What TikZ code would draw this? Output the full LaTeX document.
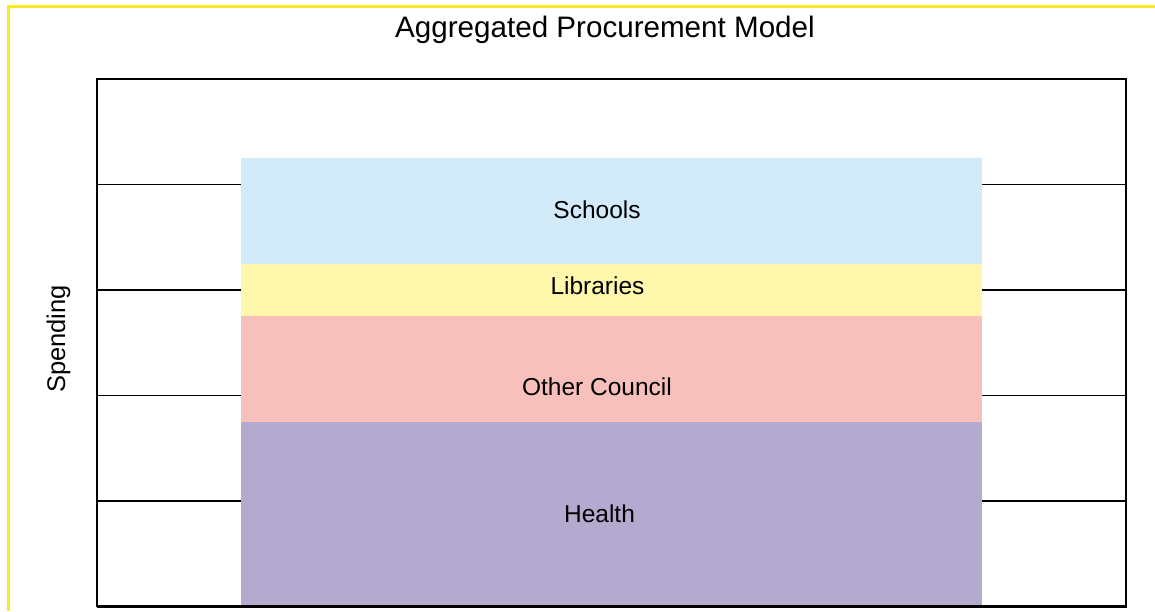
\documentclass[tikz,border=0pt]{standalone}
\usepackage{fontspec}
\setmainfont{Liberation Sans}
\definecolor{frameyellow}{HTML}{FCE91F}
\definecolor{schoolsblue}{HTML}{D3EAF9}
\definecolor{libyellow}{HTML}{FFF8AC}
\definecolor{councilpink}{HTML}{F7C0BB}
\definecolor{healthpurple}{HTML}{B4A9CE}
\tikzset{
  gridline/.style={draw=black, line width=1.8pt},
  band/.style={draw=none, inner sep=0pt, outer sep=0pt, anchor=north west},
  bandtext/.style={anchor=base, inner sep=0pt, font=\fontsize{24.5}{28}\selectfont},
  titletext/.style={anchor=base, inner sep=0pt, font=\fontsize{29.6}{34}\selectfont},
}
\begin{document}
\begin{tikzpicture}[x=1pt,y=-1pt]
\useasboundingbox (0,0) rectangle (1155,611);
% yellow frame
\draw[frameyellow, line width=3pt] (8.5,611) -- (8.5,6) -- (1155,6);
% title
\node[titletext] (title) at (605,37) {Aggregated Procurement Model};
% chart box
\coordinate (boxTL) at (97,79);
\coordinate (boxBR) at (1126,606.5);
\foreach \yy/\nm in {184.5/a,290/b,395.5/c,501/d}{
  \draw[gridline] (97,\yy) coordinate (gl\nm) -- (1126,\yy) coordinate (gr\nm);
}
% bands
\node[band, fill=schoolsblue, minimum width=741pt, minimum height=106pt] (schools) at (241,158) {};
\node[band, fill=libyellow, minimum width=741pt, minimum height=52pt] (libraries) at (241,264) {};
\node[band, fill=councilpink, minimum width=741pt, minimum height=106pt] (council) at (241,316) {};
\node[band, fill=healthpurple, minimum width=741pt, minimum height=184.5pt] (health) at (241,422) {};
% frame of chart
\draw[gridline] (boxTL) rectangle (boxBR);
\draw[black, line width=2.6pt] (97,606.5) -- (1126,606.5);
\draw[black, line width=2.2pt] (1126,79) -- (1126,607.5);
% labels
\node[bandtext] (tschools) at (597,218) {Schools};
\node[bandtext] (tlib) at (597.5,294) {Libraries};
\node[bandtext] (tcouncil) at (597,395) {Other Council};
\node[bandtext] (thealth) at (599.5,522.5) {Health};
\node[bandtext, rotate=90, font=\fontsize{25.5}{28}\selectfont] (spending) at (65,339) {Spending};
\end{tikzpicture}
\end{document}
